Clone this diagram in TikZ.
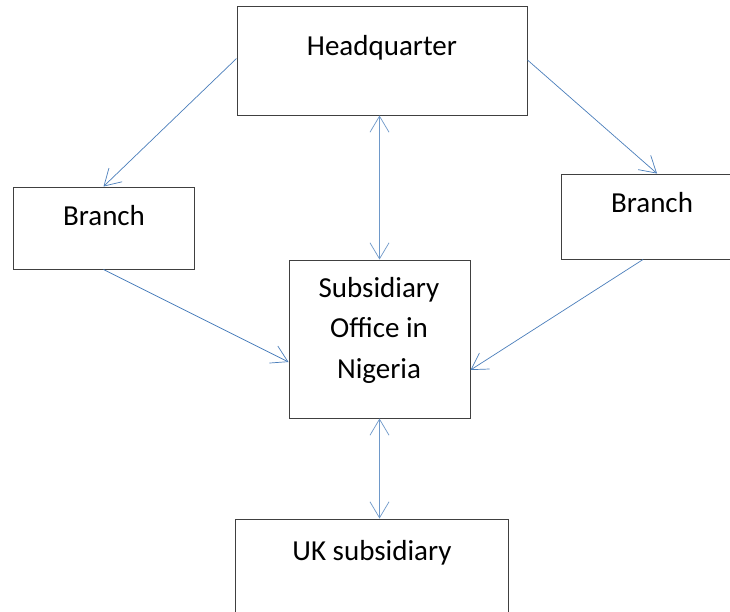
\documentclass[tikz,border=0pt]{standalone}
\usepackage{fontspec}
\setmainfont{Carlito}
\usetikzlibrary{arrows.meta}
\definecolor{arrowblue}{HTML}{4A7EBB}
\definecolor{boxline}{HTML}{404040}
\tikzset{
  box/.style={draw=boxline, line width=1pt, inner sep=0pt, fill=none},
  lbl/.style={anchor=base, inner sep=0pt, font=\fontsize{29}{40.5}\selectfont, align=center},
  conn/.style={draw=arrowblue, line width=0.7pt, -{Straight Barb[length=16pt,width=19pt,line width=0.7pt]}},
  dconn/.style={draw=arrowblue!80, line width=0.9pt, {Straight Barb[length=16pt,width=19pt,line width=0.7pt]}-{Straight Barb[length=16pt,width=19pt,line width=0.7pt]}}
}
\begin{document}
\begin{tikzpicture}[x=1pt,y=-1pt]
\clip (0,0) rectangle (730,611);
\fill[white] (0,0) rectangle (730,611);
% boxes
\node[box, minimum width=290pt, minimum height=109pt] (hq) at (382,60.5) {};
\node[box, minimum width=181pt, minimum height=82pt] (bl) at (103.5,228) {};
\node[box, minimum width=174pt, minimum height=85pt] (br) at (648,216.5) {};
\node[box, minimum width=181pt, minimum height=158pt] (sub) at (379.5,339) {};
\node[box, minimum width=273pt, minimum height=130pt] (uk) at (371.5,584) {};
% labels
\node[lbl] (hqt) at (382,55) {Headquarter};
\node[lbl] (blt) at (104,225) {Branch};
\node[lbl] (brt) at (652,212) {Branch};
\node[lbl] (subt) at (379,378) {Subsidiary\\Office in\\Nigeria};
\node[lbl] (ukt) at (372,560) {UK subsidiary};
% connectors
\draw[conn] ([yshift=2pt]hq.west) -- (bl.north);
\draw[conn] ([yshift=0.5pt]hq.east) -- ([xshift=9pt]br.north);
\draw[dconn] (hq.south -| sub.north) -- (sub.north);
\draw[conn] (bl.south) -- ([yshift=-23pt]sub.west);
\draw[conn] ([xshift=-5pt]br.south) -- ([yshift=-31pt]sub.east);
\draw[dconn] (sub.south) -- (sub.south |- uk.north);
\end{tikzpicture}
\end{document}
